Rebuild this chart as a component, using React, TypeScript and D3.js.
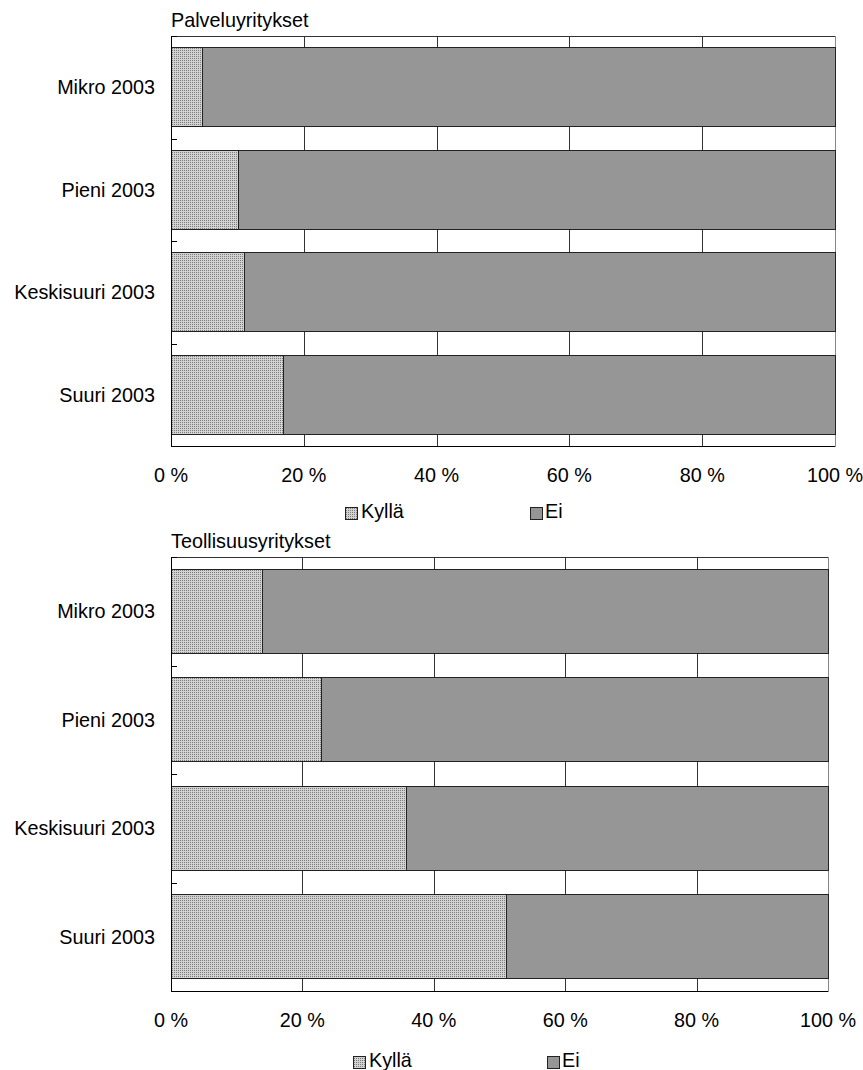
import React from "react";
import * as d3 from "d3";

// Share of firms answering "Kyllä" / "Ei" (percent), by firm size
const categories = ["Mikro 2003", "Pieni 2003", "Keskisuuri 2003", "Suuri 2003"];
const seriesNames = ["Kyllä", "Ei"];
const palveluKylla = [4.8, 10.2, 11, 17];
const teollisuusKylla = [13.9, 22.9, 35.8, 51.1];
const tickValues = [0, 20, 40, 60, 80, 100];
const tickLabels = ["0 %", "20 %", "40 %", "60 %", "80 %", "100 %"];

const FONT = "'Liberation Sans', Arial, sans-serif";
const FS = 19.8;
const EI_FILL = "#969696";
const STROKE = "#222";

type PanelProps = {
  title: string;
  kylla: number[];
  left: number;
  right: number;
  top: number;
  bottom: number;
  titleY: number;
  legend: { y: number; kyllaX: number; eiX: number };
};

function Panel({ title, kylla, left, right, top, bottom, titleY, legend }: PanelProps) {
  const x = d3.scaleLinear().domain([0, 100]).range([left, right]);
  const y = d3
    .scaleBand<string>()
    .domain(categories)
    .range([top, bottom])
    .paddingInner(0.23)
    .paddingOuter(0.115);
  const step = y.step();
  const rows = categories.map((c, i) => ({ c, yes: kylla[i], no: 100 - kylla[i] }));
  const boundaries = d3.range(categories.length + 1).map((i) => top + i * step);

  return (
    <g>
      <text x={left} y={titleY} fontSize={FS} fontFamily={FONT} fill="#000">
        {title}
      </text>
      {/* plot area frame */}
      <rect x={left} y={top} width={right - left} height={bottom - top} fill="#fff" stroke="#888" strokeWidth={1} />
      <line x1={left} x2={right} y1={top} y2={top} stroke="#333" />
      {/* vertical gridlines */}
      {tickValues.slice(1, -1).map((v) => (
        <line key={v} x1={Math.round(x(v)) + 0.5} x2={Math.round(x(v)) + 0.5} y1={top} y2={bottom} stroke="#333" strokeWidth={1} />
      ))}
      {/* stacked bars */}
      {rows.map((r) => {
        const y0 = y(r.c)!;
        const h = y.bandwidth();
        return (
          <g key={r.c}>
            <rect x={x(0)} y={y0} width={x(r.yes) - x(0)} height={h} fill="url(#dots)" stroke={STROKE} strokeWidth={1} />
            <rect x={x(r.yes)} y={y0} width={x(100) - x(r.yes)} height={h} fill={EI_FILL} stroke={STROKE} strokeWidth={1} />
          </g>
        );
      })}
      {/* category axis */}
      <line x1={left + 0.5} x2={left + 0.5} y1={top} y2={bottom} stroke="#000" />
      {boundaries.map((b, i) => (
        <line key={i} x1={left} x2={left + 6} y1={Math.round(b) + 0.5} y2={Math.round(b) + 0.5} stroke="#000" />
      ))}
      {rows.map((r) => (
        <text
          key={r.c}
          x={left - 16}
          y={y(r.c)! + y.bandwidth() / 2}
          dy="0.36em"
          textAnchor="end"
          fontSize={FS}
          fontFamily={FONT}
          fill="#000"
        >
          {r.c}
        </text>
      ))}
      {/* value axis */}
      <line x1={left} x2={right} y1={Math.round(bottom) + 0.5} y2={Math.round(bottom) + 0.5} stroke="#000" />
      {tickValues.map((v, i) => (
        <text key={v} x={x(v)} y={bottom + 36} textAnchor="middle" fontSize={FS} fontFamily={FONT} fill="#000">
          {tickLabels[i]}
        </text>
      ))}
      {/* legend */}
      <rect x={legend.kyllaX} y={legend.y - 11} width={12} height={12} fill="url(#dots)" stroke={STROKE} />
      <text x={legend.kyllaX + 16} y={legend.y} fontSize={FS} fontFamily={FONT} fill="#000">
        {seriesNames[0]}
      </text>
      <rect x={legend.eiX} y={legend.y - 11} width={12} height={12} fill={EI_FILL} stroke={STROKE} />
      <text x={legend.eiX + 15} y={legend.y} fontSize={FS} fontFamily={FONT} fill="#000">
        {seriesNames[1]}
      </text>
    </g>
  );
}

export default function App() {
  return (
    <svg
      width={863}
      height={1070}
      style={{ position: "absolute", left: 0, top: 0, background: "#fff" }}
      shapeRendering="crispEdges"
    >
      <defs>
        <pattern id="dots" width={2} height={2} patternUnits="userSpaceOnUse">
          <rect width={2} height={2} fill="#d2d2d2" />
          <rect width={1} height={1} fill="#7c7c7c" />
        </pattern>
      </defs>
      <rect width={863} height={1070} fill="#fff" />
      <Panel
        title="Palveluyritykset"
        kylla={palveluKylla}
        left={171}
        right={835}
        top={36}
        bottom={446}
        titleY={27}
        legend={{ y: 518, kyllaX: 345, eiX: 530 }}
      />
      <Panel
        title="Teollisuusyritykset"
        kylla={teollisuusKylla}
        left={171}
        right={828}
        top={557}
        bottom={991}
        titleY={548}
        legend={{ y: 1067, kyllaX: 353, eiX: 547 }}
      />
    </svg>
  );
}
